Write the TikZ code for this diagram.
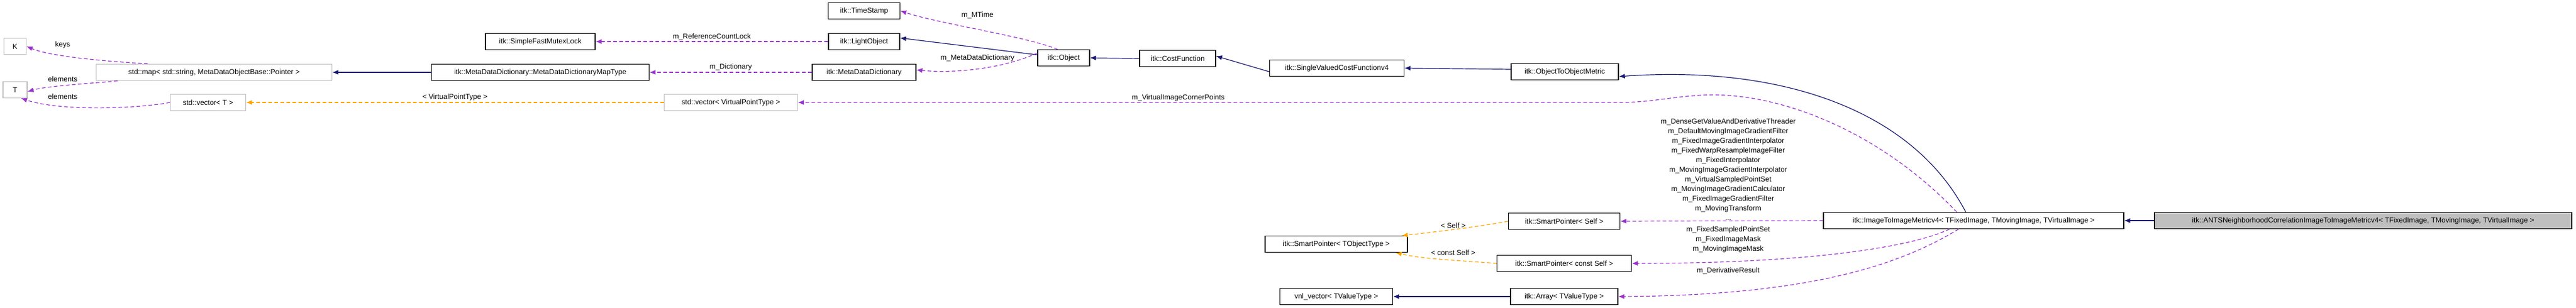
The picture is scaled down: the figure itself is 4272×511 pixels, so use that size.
\documentclass[tikz,border=0pt]{standalone}
\usepackage{fontspec}
\setmainfont{Liberation Sans}
\usetikzlibrary{arrows.meta}
\definecolor{dpurple}{HTML}{9A32CD}
\definecolor{dorange}{HTML}{FFA500}
\definecolor{dnavy}{HTML}{191970}
\definecolor{gborder}{HTML}{BFBFBF}
\begin{document}
\begin{tikzpicture}[x=1pt,y=-1pt,
  font=\fontsize{12}{16}\selectfont,
  box/.style={draw=black,line width=1.2pt,fill=white,minimum height=27pt,inner sep=3pt,anchor=center},
  gbox/.style={box,draw=gborder},
  cur/.style={box,fill=gborder},
  tip/.style={-{Latex[length=10pt,width=8pt]}},
  inh/.style={tip,draw=dnavy,line width=1.2pt},
  use/.style={tip,draw=dpurple,dashed,dash pattern=on 6pt off 4pt,line width=1.2pt},
  tpl/.style={tip,draw=dorange,dashed,dash pattern=on 6pt off 4pt,line width=1.2pt},
  lab/.style={inner sep=0pt,align=center,font=\fontsize{12}{16}\selectfont}]
\useasboundingbox (0,0) rectangle (4272,511);
% nodes
\node[gbox,minimum width=37pt] (K) at (25,77) {K};
\node[gbox,minimum width=40pt] (T) at (25,149) {T};
\node[gbox,minimum width=391pt] (map) at (355,120) {std::map< std::string, MetaDataObjectBase::Pointer >};
\node[gbox,minimum width=125pt] (vecT) at (345,170) {std::vector< T >};
\node[box,minimum width=182pt] (mutex) at (896,69) {itk::SimpleFastMutexLock};
\node[box,minimum width=361pt] (mapt) at (896,120) {itk::MetaDataDictionary::MetaDataDictionaryMapType};
\node[box,minimum width=119pt] (ts) at (1433,18) {itk::TimeStamp};
\node[box,minimum width=118pt] (lo) at (1433,69) {itk::LightObject};
\node[box,minimum width=172pt] (mdd) at (1433,120) {itk::MetaDataDictionary};
\node[box,minimum width=86pt] (obj) at (1764,96) {itk::Object};
\node[box,minimum width=126pt] (cf) at (1953,97) {itk::CostFunction};
\node[box,minimum width=223pt] (svcf) at (2217,113) {itk::SingleValuedCostFunctionv4};
\node[box,minimum width=178pt] (oom) at (2595,119) {itk::ObjectToObjectMetric};
\node[gbox,minimum width=221pt] (vecV) at (1212,170) {std::vector< VirtualPointType >};
\node[box,minimum width=498pt] (itim) at (3273,366) {itk::ImageToImageMetricv4< TFixedImage, TMovingImage, TVirtualImage >};
\node[cur,minimum width=692pt] (ants) at (3919,366) {itk::ANTSNeighborhoodCorrelationImageToImageMetricv4< TFixedImage, TMovingImage, TVirtualImage >};
\node[box,minimum width=185pt] (sps) at (2594,367) {itk::SmartPointer< Self >};
\node[box,minimum width=236pt] (spt) at (2216,405) {itk::SmartPointer< TObjectType >};
\node[box,minimum width=223pt] (spc) at (2594,437) {itk::SmartPointer< const Self >};
\node[box,minimum width=187pt] (vnl) at (2216,492) {vnl\_vector< TValueType >};
\node[box,minimum width=178pt] (arr) at (2594,492) {itk::Array< TValueType >};
% edges
\draw[use] ([xshift=-110pt]map.north) .. controls (150,100) and (80,92) .. (K.east);
\node[lab] (lkeys) at (104,74) {keys};
\draw[use] ([xshift=-160pt]map.south) .. controls (160,138) and (80,142) .. ([yshift=-3pt]T.east);
\node[lab] (lel1) at (104,131) {elements};
\draw[use] (vecT.west) .. controls (230,180) and (100,185) .. ([xshift=10pt]T.south);
\node[lab] (lel2) at (104,160) {elements};
\draw[tpl] (vecV.west) -- (vecT.east) node[lab,midway,above=2pt] {< VirtualPointType >};
\draw[inh] (mapt.west) -- (map.east);
\draw[use] (lo.west) -- (mutex.east) node[lab,midway,above=2pt] {m\_ReferenceCountLock};
\draw[use] (mdd.west) -- (mapt.east) node[lab,midway,above=2pt] {m\_Dictionary};
\draw[use] ([xshift=-10pt]obj.north) .. controls (1700,60) and (1560,40) .. (ts.east);
\node[lab] (lmt) at (1621,25) {m\_MTime};
\draw[inh] ([yshift=5pt]obj.west) -- ([yshift=6pt]lo.east);
\draw[use] ([yshift=8pt]obj.west) .. controls (1660,115) and (1580,122) .. ([yshift=4pt]mdd.east);
\node[lab] (lmdd) at (1621,96) {m\_MetaDataDictionary};
\draw[inh] (cf.west) -- (obj.east);
\draw[inh] ([yshift=-6pt]svcf.west) -- ([yshift=4pt]cf.east);
\draw[inh] ([yshift=4pt]oom.west) -- (svcf.east);
\draw[inh] ([xshift=-13pt]itim.north) .. controls (3170,180) and (2950,108) .. ([yshift=-8pt]oom.east);
\draw[inh] (ants.west) -- (itim.east);
\draw[use] ([xshift=-28pt]itim.north) .. controls (3120,220) and (2950,150) .. (2820,158) .. controls (2760,162) and (2740,170) .. (2680,170) -- (vecV.east);
\node[lab] (lvc) at (1954,162) {m\_VirtualImageCornerPoints};
\node[lab] (lbig) at (2866,281) {m\_DenseGetValueAndDerivativeThreader\\m\_DefaultMovingImageGradientFilter\\m\_FixedImageGradientInterpolator\\m\_FixedWarpResampleImageFilter\\m\_FixedInterpolator\\m\_MovingImageGradientInterpolator\\m\_VirtualSampledPointSet\\m\_MovingImageGradientCalculator\\m\_FixedImageGradientFilter\\m\_MovingTransform\\...};
\draw[use] (itim.west) -- (sps.east);
\draw[use] ([xshift=-40pt]itim.south) .. controls (3170,410) and (3000,437) .. (spc.east);
\node[lab] (lsmall) at (2866,397) {m\_FixedSampledPointSet\\m\_FixedImageMask\\m\_MovingImageMask};
\draw[use] ([xshift=-25pt]itim.south) .. controls (3150,440) and (3000,490) .. (arr.east);
\node[lab] (lder) at (2866,449) {m\_DerivativeResult};
\draw[tpl] (sps.west) .. controls (2460,375) and (2380,385) .. ([xshift=-10pt]spt.north east);
\node[lab] (lself) at (2410,374) {< Self >};
\draw[tpl] (spc.west) .. controls (2420,432) and (2360,430) .. ([xshift=-20pt]spt.south east);
\node[lab] (lcself) at (2410,419) {< const Self >};
\draw[inh] (arr.west) -- (vnl.east);
\end{tikzpicture}
\end{document}
